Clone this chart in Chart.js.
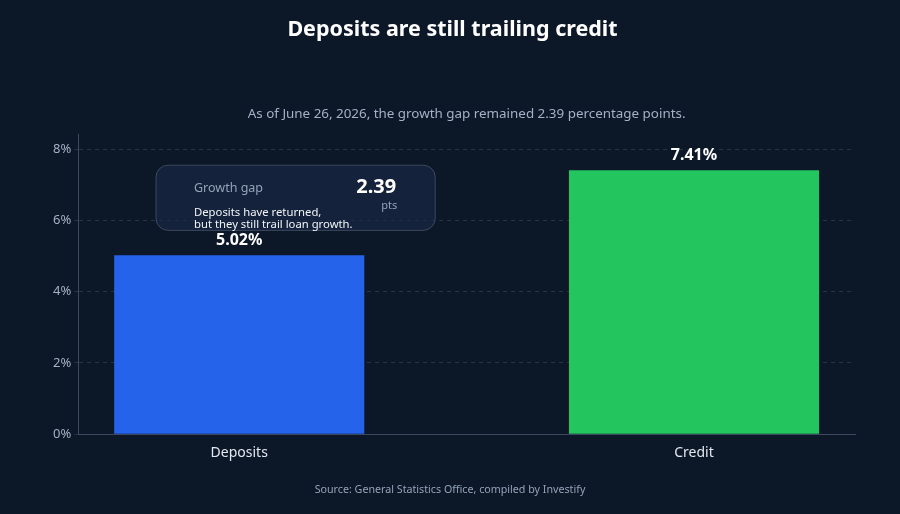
<!DOCTYPE html>
<html>
<head>
<meta charset="utf-8">
<script src="https://cdn.jsdelivr.net/npm/chart.js@4.4.1/dist/chart.umd.min.js"></script>
<style>
  html, body { margin: 0; padding: 0; background: #0c1728; }
  #wrap { width: 900px; height: 514px; }
</style>
</head>
<body>
<div id="wrap"><canvas id="gapChart" width="900" height="514"></canvas></div>
<script>
// data
const categories = ['Deposits', 'Credit'];
const growthValues = [5.02, 7.41];
const barColors = ['#2563eb', '#22c55e'];
const yTicks = [0, 2, 4, 6, 8];
const gapValue = 2.39;

const ctx = document.getElementById('gapChart').getContext('2d');
Chart.defaults.font.family = "'Noto Sans', sans-serif";

// value labels above each bar
const valueLabels = {
  id: 'valueLabels',
  afterDatasetsDraw(chart) {
    const c = chart.ctx;
    const meta = chart.getDatasetMeta(0);
    c.save();
    c.font = "bold 16px 'Noto Sans'";
    c.fillStyle = '#ffffff';
    c.textAlign = 'center';
    c.textBaseline = 'bottom';
    meta.data.forEach((bar, i) => {
      c.fillText(growthValues[i].toFixed(2) + '%', bar.x, bar.y - 7);
    });
    c.restore();
  }
};

// gap callout box, placed in data units
const gapBox = {
  id: 'gapBox',
  afterDatasetsDraw(chart) {
    const c = chart.ctx;
    const xs = chart.scales.x, ys = chart.scales.y;
    const left = xs.getPixelForValue(-0.183);
    const right = xs.getPixelForValue(0.431);
    const top = ys.getPixelForValue(7.55);
    const bottom = ys.getPixelForValue(5.72);
    c.save();
    c.beginPath();
    c.roundRect(left, top, right - left, bottom - top, 12);
    c.fillStyle = 'rgba(24, 40, 68, 0.7)';
    c.fill();
    c.strokeStyle = 'rgba(148, 163, 184, 0.32)';
    c.lineWidth = 1;
    c.stroke();

    c.textBaseline = 'middle';
    c.textAlign = 'left';
    c.font = "12.5px 'Noto Sans'";
    c.fillStyle = '#94a3b8';
    c.fillText('Growth gap', left + 38, top + 23);

    c.font = "bold 20px 'Noto Sans'";
    c.fillStyle = '#ffffff';
    c.textAlign = 'right';
    c.fillText(gapValue.toFixed(2), right - 39, top + 22);

    c.font = "11px 'Noto Sans'";
    c.fillStyle = '#94a3b8';
    c.textAlign = 'center';
    c.fillText('pts', right - 46, top + 41);

    c.font = "11.3px 'Noto Sans'";
    c.fillStyle = '#f1f5f9';
    c.textAlign = 'left';
    c.fillText('Deposits have returned,', left + 38, top + 48);
    c.fillText('but they still trail loan growth.', left + 38, top + 60);
    c.restore();
  }
};

// source line at the bottom
const sourceNote = {
  id: 'sourceNote',
  afterDraw(chart) {
    const c = chart.ctx;
    c.save();
    c.font = "10.7px 'Noto Sans'";
    c.fillStyle = '#94a3b8';
    c.textAlign = 'center';
    c.textBaseline = 'middle';
    c.fillText('Source: General Statistics Office, compiled by Investify', chart.width / 2, chart.height - 24);
    c.restore();
  }
};

const bgFill = {
  id: 'bgFill',
  beforeDraw(chart) {
    const c = chart.ctx;
    c.save();
    c.fillStyle = '#0c1728';
    c.fillRect(0, 0, chart.width, chart.height);
    c.restore();
  }
};

const chart = new Chart(ctx, {
  type: 'bar',
  data: {
    datasets: [{
      data: growthValues.map((v, i) => ({ x: i, y: v })),
      backgroundColor: barColors,
      borderWidth: 0,
      categoryPercentage: 0.55,
      barPercentage: 1
    }]
  },
  options: {
    responsive: false,
    animation: false,
    layout: { padding: { left: 50, right: 45, top: 0, bottom: 51 } },
    plugins: {
      legend: { display: false },
      tooltip: { enabled: false },
      title: {
        display: true,
        text: 'Deposits are still trailing credit',
        color: '#ffffff',
        font: { size: 21.5, weight: 'bold' },
        padding: { top: 17, bottom: 63 }
      },
      subtitle: {
        display: true,
        fullSize: false,
        text: 'As of June 26, 2026, the growth gap remained 2.39 percentage points.',
        color: '#a3b1c6',
        font: { size: 13.4 },
        padding: { top: 0, bottom: 13 }
      }
    },
    scales: {
      x: {
        type: 'linear',
        offset: false,
        min: -0.354,
        max: 1.354,
        afterBuildTicks: s => { s.ticks = categories.map((_, i) => ({ value: i })); },
        ticks: {
          callback: v => categories[v],
          color: '#e2e8f0',
          font: { size: 14 },
          padding: 2
        },
        grid: { display: false, offset: false },
        border: { display: true, color: '#3b4a60', width: 1 }
      },
      y: {
        min: 0,
        max: 8.4,
        afterBuildTicks: s => { s.ticks = yTicks.map(v => ({ value: v })); },
        ticks: {
          callback: v => v + '%',
          color: '#a3b1c6',
          font: { size: 13 },
          padding: 3
        },
        grid: {
          color: 'rgba(100, 116, 139, 0.3)',
          tickLength: 4,
          drawTicks: true
        },
        border: { display: true, color: '#3b4a60', width: 1, dash: [4, 4] }
      }
    }
  },
  plugins: [bgFill, valueLabels, gapBox, sourceNote]
});
</script>
</body>
</html>
